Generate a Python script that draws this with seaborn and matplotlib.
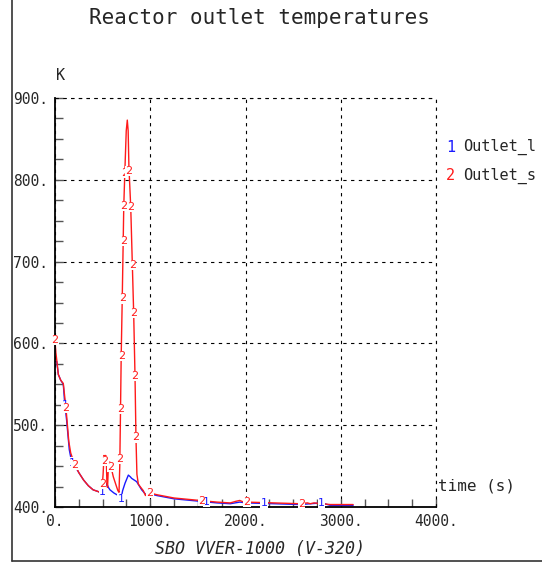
import numpy as np
import pandas as pd
import matplotlib.pyplot as plt
import seaborn as sns
from matplotlib.ticker import MultipleLocator, FuncFormatter
from matplotlib.lines import Line2D

# Outlet_l (1, blue)
blue_t = [0, 18, 35, 60, 87, 100, 122, 150, 175, 200, 250, 300, 350, 400, 450, 490,
          505, 520, 543, 560, 577, 620, 665, 693, 710, 735, 770, 790, 805, 857, 910, 962,
          1000, 1070, 1250, 1520, 1700, 1840, 1940, 2010, 2300, 2570, 2800, 2890, 3130]
blue_T = [578, 578, 562, 555, 550, 530, 506, 470, 455, 452, 442, 433, 426, 421, 419, 417,
          419, 421, 429, 424, 421, 417, 414, 410, 420, 429, 439, 437, 435, 431, 421, 414,
          416, 414, 410, 407, 405, 404, 406, 405, 404, 403, 405, 402, 402]

# Outlet_s (2, red)
red_t = [0, 8, 18, 35, 60, 87, 100, 115, 126, 145, 165, 200, 250, 300, 350, 400, 450, 490,
         505, 515, 522, 530, 538, 545, 552, 560, 575, 590, 612, 640, 660, 672,
         680, 688, 695, 706, 716, 722, 735, 748, 759, 768, 776, 795, 812, 826, 840, 850,
         860, 875, 900, 927, 950, 975, 1000, 1070, 1250, 1520, 1700, 1840, 1900, 1940,
         1980, 2010, 2300, 2570, 2650, 2680, 2720, 2890, 3130]
red_T = [604, 590, 580, 562, 555, 551, 537, 521, 506, 480, 466, 454, 442, 433, 426, 421, 419, 417,
         440, 463, 452, 463, 462, 428, 424, 450, 455, 448, 437, 427, 420, 418,
         450, 520, 585, 655, 725, 768, 816, 860, 873, 860, 816, 767, 696, 637, 560, 485,
         440, 428, 424, 420, 414, 419, 417, 415, 411, 408, 406, 405, 407, 408,
         406, 406, 405, 404, 405, 404, 405, 403, 403]

# times where the curve numbers are written
blue_lab_t = [105, 180, 497, 693, 1593, 2195, 2800]
red_lab_t = [0, 115, 210, 497, 525, 588, 681, 688, 695, 706, 716, 722, 733,
             778, 795, 812, 826, 840, 850, 997, 1540, 2016, 2590]

df = pd.concat([
    pd.DataFrame({'time': blue_t, 'temp': blue_T, 'serie': 'Outlet_l'}),
    pd.DataFrame({'time': red_t, 'temp': red_T, 'serie': 'Outlet_s'}),
])

sns.set_style("white")
plt.rcParams['font.family'] = ['DejaVu Sans Mono']

BLUE = '#1a1aff'
RED = '#ff1a1a'

fig = plt.figure(figsize=(5.42, 5.63), dpi=100)
ax = fig.add_axes([55 / 542, 56 / 563, 381 / 542, 409 / 563])

sns.lineplot(data=df, x='time', y='temp', hue='serie', estimator=None,
             palette={'Outlet_l': BLUE, 'Outlet_s': RED}, lw=1.0, legend=False, ax=ax)

for t in blue_lab_t:
    ax.text(t, np.interp(t, blue_t, blue_T), '1', color=BLUE, fontsize=8,
            ha='center', va='center', zorder=4, family='DejaVu Sans',
            bbox=dict(facecolor='white', edgecolor='none', pad=0.1))
for t in red_lab_t:
    ax.text(t, np.interp(t, red_t, red_T), '2', color=RED, fontsize=8,
            ha='center', va='center', zorder=5, family='DejaVu Sans',
            bbox=dict(facecolor='white', edgecolor='none', pad=0.1))

ax.set_xlim(0, 4000)
ax.set_ylim(400, 900)
ax.set_xlabel('')
ax.set_ylabel('')
ax.xaxis.set_major_locator(MultipleLocator(1000))
ax.xaxis.set_minor_locator(MultipleLocator(250))
ax.yaxis.set_major_locator(MultipleLocator(100))
ax.yaxis.set_minor_locator(MultipleLocator(25))
fmt = FuncFormatter(lambda v, p: f"{v:.0f}.")
ax.xaxis.set_major_formatter(fmt)
ax.yaxis.set_major_formatter(fmt)
ax.tick_params(which='both', direction='in', length=6, width=1, color='#555555',
               bottom=True, left=True, top=False, right=False)
ax.tick_params(axis='y', which='major', labelsize=10.5, pad=5)
ax.tick_params(axis='x', which='major', labelsize=10.5, pad=5)

for s in ['top', 'right']:
    ax.spines[s].set_visible(False)
for s in ['left', 'bottom']:
    ax.spines[s].set_color('black')
    ax.spines[s].set_linewidth(1.3)

ax.grid(True, which='major', color='black', ls=(0, (3, 4)), lw=0.8)
ax.axhline(900, color='black', ls=(0, (3, 4)), lw=0.8, clip_on=False)
ax.axvline(4000, color='black', ls=(0, (3, 4)), lw=0.8, clip_on=False)

fig.text(259 / 542, 1 - 18 / 563, 'Reactor outlet temperatures', fontsize=15,
         ha='center', va='center')
fig.text(61 / 542, 1 - 75 / 563, 'K', fontsize=11, ha='center', va='center')
fig.text(438 / 542, 1 - 486 / 563, 'time (s)', fontsize=11.5, ha='left', va='center')
fig.text(260 / 542, 1 - 549 / 563, 'SBO VVER-1000 (V-320)', fontsize=12,
         style='italic', ha='center', va='center')

fig.text(446 / 542, 1 - 147 / 563, '1', color=BLUE, fontsize=11, ha='left', va='center')
fig.text(463 / 542, 1 - 147 / 563, 'Outlet_l', fontsize=11, ha='left', va='center')
fig.text(446 / 542, 1 - 176 / 563, '2', color=RED, fontsize=11, ha='left', va='center')
fig.text(463 / 542, 1 - 176 / 563, 'Outlet_s', fontsize=11, ha='left', va='center')

# frame round the picture (left and bottom edges are visible)
fig.add_artist(Line2D([12 / 542, 12 / 542], [2 / 563, 1.0], transform=fig.transFigure,
                      color='#333333', lw=1.2))
fig.add_artist(Line2D([12 / 542, 1.0], [2 / 563, 2 / 563], transform=fig.transFigure,
                      color='#333333', lw=1.2))

fig.savefig('out.png', dpi=100)
